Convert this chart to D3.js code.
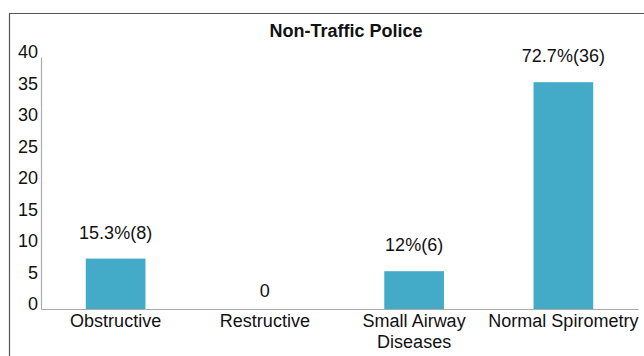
<html>
<head>
<script src="https://d3js.org/d3.v7.min.js"></script>
<style>
    body { margin: 0; background: #fff; }
    text { font-family: "Liberation Sans", Arial, sans-serif; fill: #111; }
</style>
</head>
<body>
<div id="chart"></div>
<script>
    // chart data
    const categories = ['Obstructive', 'Restructive', 'Small Airway Diseases', 'Normal Spirometry'];
    const counts = [8, 0, 6, 36];
    const labels = ['15.3%(8)', '0', '12%(6)', '72.7%(36)'];
    const yTicks = [0, 5, 10, 15, 20, 25, 30, 35, 40];

    const width = 644, height = 356;
    const x0 = 41, x1 = 638, yTop = 57, yBottom = 309;

    const svg = d3.select('#chart').append('svg')
        .attr('width', width)
        .attr('height', height);

    // frame
    svg.append('path')
        .attr('d', `M9.5,${height} V13.5 H${width}`)
        .attr('fill', 'none')
        .attr('stroke', '#555')
        .attr('stroke-width', 1.2);

    const xScale = d3.scaleBand()
        .domain(categories)
        .range([x0, x1])
        .paddingInner(0.6)
        .paddingOuter(0.3);
    const yScale = d3.scaleLinear()
        .domain([0, 40])
        .range([yBottom, yTop]);

    svg.append('text')
        .attr('x', 346)
        .attr('y', 37)
        .attr('text-anchor', 'middle')
        .style('font-size', '18px')
        .style('font-weight', 'bold')
        .text('Non-Traffic Police');

    // bars
    svg.selectAll('.bar')
        .data(counts)
        .enter()
        .append('rect')
        .attr('class', 'bar')
        .attr('x', (d, i) => xScale(categories[i]))
        .attr('y', d => yScale(d))
        .attr('width', xScale.bandwidth())
        .attr('height', d => yBottom - yScale(d))
        .attr('fill', '#43abc8');

    // value labels
    svg.selectAll('.val')
        .data(counts)
        .enter()
        .append('text')
        .attr('class', 'val')
        .attr('x', (d, i) => xScale(categories[i]) + xScale.bandwidth() / 2)
        .attr('y', d => yScale(d) - (d === 0 ? 12 : 20))
        .attr('text-anchor', 'middle')
        .style('font-size', '18px')
        .text((d, i) => labels[i]);

    // y axis
    const yAxis = svg.append('g')
        .attr('transform', `translate(${x0},0)`)
        .call(d3.axisLeft(yScale).tickValues(yTicks).tickSize(0).tickPadding(3));
    yAxis.select('.domain').attr('stroke', '#aaa').attr('stroke-width', 1.2);
    yAxis.selectAll('text')
        .attr('dy', '0.05em')
        .style('font-size', '18px')
        .style('font-family', '"Liberation Sans", Arial, sans-serif')
        .attr('fill', '#111');

    // x axis
    const xAxis = svg.append('g')
        .attr('transform', `translate(0,${yBottom})`)
        .call(d3.axisBottom(xScale).tickSize(0).tickPadding(5));
    xAxis.select('.domain').attr('stroke', '#aaa').attr('stroke-width', 1.2);
    xAxis.selectAll('text')
        .style('font-size', '18px')
        .style('font-family', '"Liberation Sans", Arial, sans-serif')
        .attr('fill', '#111')
        .each(function (d) {
            const t = d3.select(this);
            if (d === 'Small Airway Diseases') {
                t.text(null);
                t.append('tspan').attr('x', 0).attr('dy', '0.71em').text('Small Airway');
                t.append('tspan').attr('x', 0).attr('dy', '1.2em').text('Diseases');
            }
        });
</script>
</body>
</html>
